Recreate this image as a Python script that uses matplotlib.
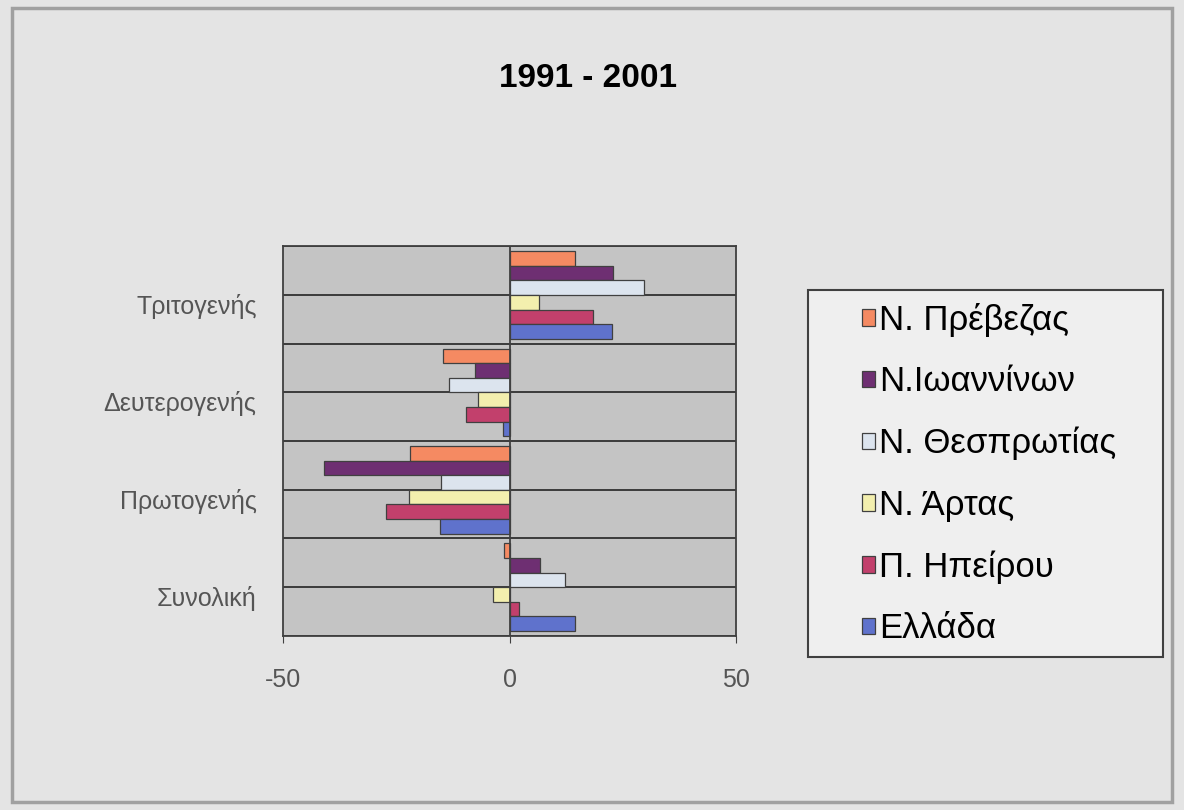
import numpy as np
import matplotlib.pyplot as plt
from matplotlib.patches import Rectangle
from matplotlib.transforms import offset_copy

plt.rcParams['font.family'] = ['Liberation Sans', 'DejaVu Sans']

categories = ['Τριτογενής', 'Δευτερογενής', 'Πρωτογενής', 'Συνολική']
series = ['Ν. Πρέβεζας', 'Ν.Ιωαννίνων', 'Ν. Θεσπρωτίας', 'Ν. Άρτας', 'Π. Ηπείρου', 'Ελλάδα']
prevezas = [14.3, -14.8, -22.0, -1.2]
ioanninon = [22.7, -7.7, -41.0, 6.6]
thesprotias = [29.7, -13.4, -15.2, 12.3]
artas = [6.4, -7.0, -22.2, -3.7]
ipeirou = [18.3, -9.7, -27.3, 2.0]
ellada = [22.5, -1.5, -15.4, 14.5]
xticks = [-50, 0, 50]
colors = ['#F58A62', '#6E2F72', '#DCE4EE', '#F3EFAE', '#C2406C', '#5F72CC']
values = [prevezas, ioanninon, thesprotias, artas, ipeirou, ellada]

fig = plt.figure(figsize=(11.84, 8.10), dpi=100)
fig.patch.set_facecolor('#E4E4E4')
fig.patches.append(Rectangle((0.010, 0.010), 0.980, 0.980, transform=fig.transFigure,
                             fill=False, edgecolor='#A0A0A0', linewidth=2.5))

ax = fig.add_axes([0.239, 0.215, 0.383, 0.481])
ax.set_facecolor('#C4C4C4')

h = 0.15
y = np.arange(len(categories))
for j in range(len(series)):
    ax.barh(y + (j - 2.5) * h, values[j], height=h, color=colors[j],
            edgecolor='#404040', linewidth=0.9, label=series[j], zorder=3)

for k in np.arange(-0.5, len(categories), 0.5):
    ax.axhline(k, color='#303030', linewidth=1.3, zorder=2)
ax.axvline(0, color='#404040', linewidth=1.3, zorder=4)

ax.set_xlim(-50, 50)
ax.set_ylim(len(categories) - 0.5, -0.5)
ax.set_xticks(xticks)
ax.set_xticklabels([str(v) for v in xticks])
ax.set_yticks(y)
ax.set_yticklabels(categories)
ax.tick_params(axis='both', labelsize=18, labelcolor='#555555', color='#404040', length=5)
ax.tick_params(axis='y', length=0, pad=19)
ax.tick_params(axis='x', pad=18)
for lab in ax.get_yticklabels():
    lab.set_transform(offset_copy(lab.get_transform(), fig=fig, x=0, y=-9, units='dots'))
for s in ax.spines.values():
    s.set_color('#404040')
    s.set_linewidth(1.3)

fig.text(0.497, 0.903, '1991 - 2001', ha='center', va='center', fontsize=24, fontweight='bold')

# legend box drawn separately, legend itself without frame
fig.patches.append(Rectangle((808 / 1184, 1 - 657 / 810), 355 / 1184, 367 / 810,
                             transform=fig.transFigure, facecolor='#EFEFEF',
                             edgecolor='#404040', linewidth=1.5, zorder=1))
leg = fig.legend(loc='upper left', bbox_to_anchor=(862 / 1184, 1 - 303 / 810),
                 fontsize=25, frameon=False, handlelength=0.36, handleheight=0.36,
                 handletextpad=0.12, labelspacing=0.82, borderpad=0, borderaxespad=0)
leg.set_zorder(5)

fig.savefig('out.png', dpi=100, facecolor=fig.get_facecolor())
